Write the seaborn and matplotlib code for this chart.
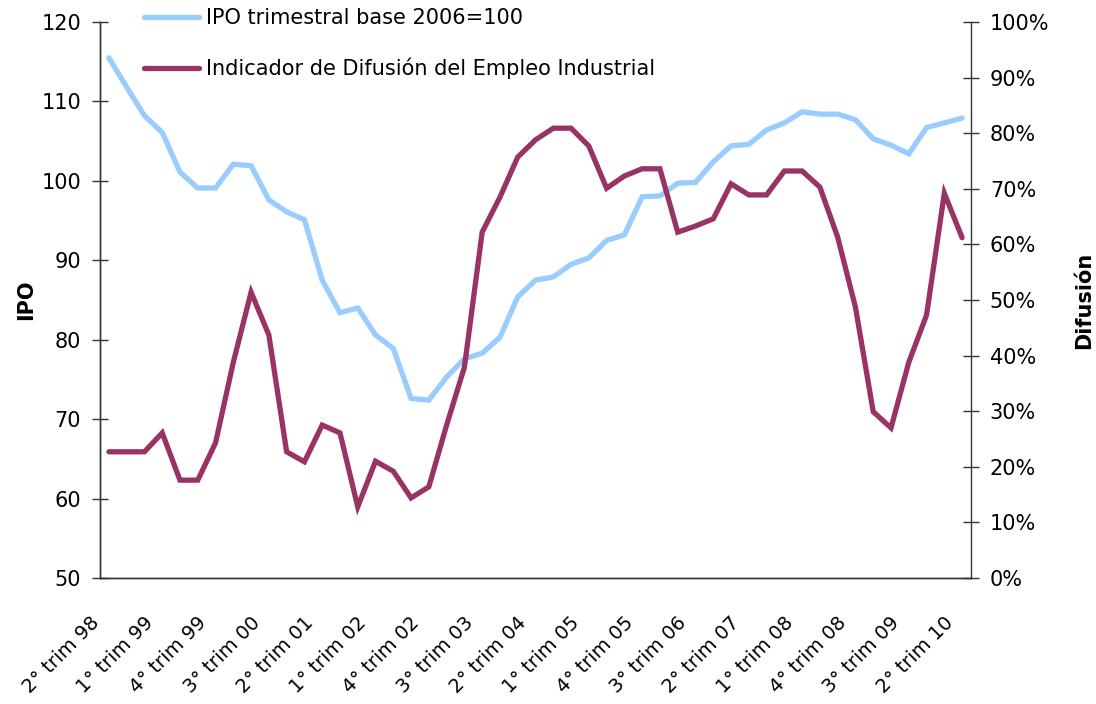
import numpy as np
import pandas as pd
import matplotlib
matplotlib.use("Agg")
import matplotlib.pyplot as plt
import seaborn as sns
from matplotlib.ticker import FuncFormatter, MultipleLocator
from matplotlib.lines import Line2D
import matplotlib.transforms as mtransforms

sns.set_theme(style="white")
plt.rcParams['font.family'] = ['DejaVu Sans']
plt.rcParams['text.color'] = 'black'
plt.rcParams['axes.labelcolor'] = 'black'
plt.rcParams['xtick.color'] = 'black'
plt.rcParams['ytick.color'] = 'black'

# ---- data ----
quarters = []
q, y = 2, 98
for _ in range(49):
    quarters.append(f"{q}° trim {y % 100:02d}")
    q += 1
    if q > 4:
        q = 1
        y += 1

ipo = [115.5, 111.8, 108.2, 106.1, 101.1, 99.1, 99.1, 102.1, 101.9, 97.6,
       96.1, 95.1, 87.5, 83.4, 84.0, 80.6, 78.9, 72.6, 72.4, 75.3,
       77.6, 78.3, 80.3, 85.4, 87.5, 87.9, 89.5, 90.3, 92.5, 93.2,
       98.0, 98.1, 99.7, 99.8, 102.4, 104.4, 104.6, 106.4, 107.3, 108.7,
       108.4, 108.4, 107.7, 105.3, 104.5, 103.4, 106.7, 107.3, 107.9]

difusion = [22.7, 22.7, 22.7, 26.1, 17.6, 17.6, 24.3, 38.8, 51.4, 43.7,
            22.7, 20.9, 27.5, 26.1, 12.8, 21.0, 19.2, 14.4, 16.4, 27.5,
            37.9, 62.2, 68.5, 75.7, 78.8, 80.9, 80.9, 77.7, 70.1, 72.3,
            73.6, 73.6, 62.2, 63.3, 64.6, 70.9, 68.9, 68.9, 73.2, 73.2,
            70.3, 61.3, 48.7, 29.9, 27.0, 38.8, 47.3, 69.2, 61.2]

label_ipo = "IPO trimestral base 2006=100"
label_dif = "Indicador de Difusión del Empleo Industrial"

df = pd.DataFrame({"pos": np.arange(len(quarters)), "quarter": quarters,
                   "ipo": ipo, "difusion": difusion})

blue = "#99CCFF"
purple = "#993366"
fs = 15

fig = plt.figure(figsize=(10.96, 7.04), dpi=100)
ax = fig.add_axes([100/1096, 1-578/704, 871/1096, 556/704])
ax2 = ax.twinx()

sns.lineplot(data=df, x="pos", y="ipo", ax=ax, color=blue, linewidth=3.8,
             legend=False, solid_capstyle="round", solid_joinstyle="miter")
sns.lineplot(data=df, x="pos", y="difusion", ax=ax2, color=purple, linewidth=3.8,
             legend=False, solid_capstyle="round", solid_joinstyle="miter")

ax.set_xlim(-0.5, len(quarters) - 0.5)
ax.set_ylim(50, 120)
ax2.set_ylim(0, 100)
ax.yaxis.set_major_locator(MultipleLocator(10))
ax2.yaxis.set_major_locator(MultipleLocator(10))
ax2.yaxis.set_major_formatter(FuncFormatter(lambda v, p: f"{v:.0f}%"))

# x ticks: labels every 3 quarters, marks every 6 quarters at boundaries
lab_pos = np.arange(0, len(quarters), 3)
ax.set_xticks(lab_pos)
ax.set_xticklabels([quarters[i] for i in lab_pos], rotation=45, ha="right",
                   va="center", rotation_mode="anchor", fontsize=14)
ax.set_xticks(np.arange(-0.5, len(quarters), 6), minor=True)
ax.tick_params(axis="x", which="major", length=0, pad=30)
ax.tick_params(axis="x", which="minor", length=11, direction="inout", width=1, color="#333333")
offset = mtransforms.ScaledTranslation(-12/100, 0, fig.dpi_scale_trans)
for t in ax.get_xticklabels():
    t.set_transform(t.get_transform() + offset)

ax.tick_params(axis="y", which="major", length=11, direction="inout", width=1,
               color="#333333", labelsize=fs, pad=8)
ax2.tick_params(axis="y", which="major", length=11, direction="inout", width=1,
                color="#333333", labelsize=fs, pad=8)

for a in (ax, ax2):
    a.spines["top"].set_visible(False)
    for s in ("left", "right", "bottom"):
        a.spines[s].set_color("#333333")
        a.spines[s].set_linewidth(1)
    a.grid(False)
ax.spines["right"].set_visible(False)

ax.set_xlabel("")
ax.set_ylabel("IPO", fontsize=fs, fontweight="bold", labelpad=4)
ax2.set_ylabel("Difusión", fontsize=fs, fontweight="bold", labelpad=18)

handles = [Line2D([], [], color=blue, lw=3.8, solid_capstyle="round"),
           Line2D([], [], color=purple, lw=3.8, solid_capstyle="round")]
leg = fig.legend(handles, [label_ipo, label_dif], loc="upper left",
                 bbox_to_anchor=(136/1096, 1.0), frameon=False, fontsize=fs,
                 handlelength=2.6, handletextpad=0.35, labelspacing=1.4,
                 borderaxespad=0)

fig.savefig("out.png", dpi=100)
